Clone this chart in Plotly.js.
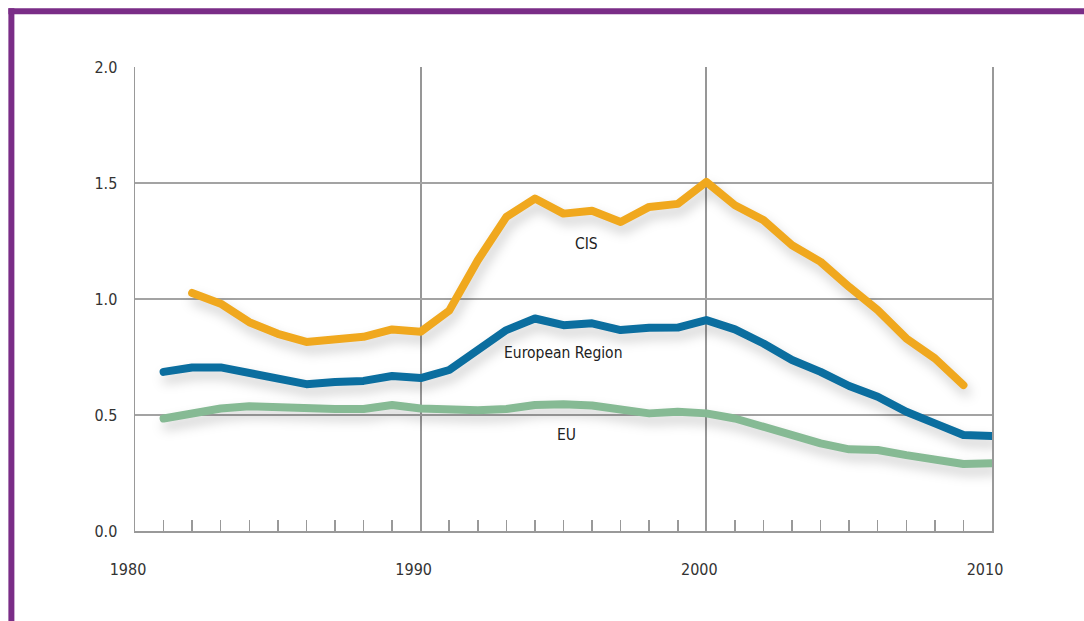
<!DOCTYPE html>
<html>
<head>
<meta charset="utf-8">
<script src="https://cdn.plot.ly/plotly-3.0.1.min.js"></script>
<style>
html,body{margin:0;padding:0;background:#fff;}
#chart{width:1084px;height:621px;}
.scatterlayer .trace path.js-line{stroke-linecap:round;stroke-linejoin:round;filter:drop-shadow(3px 7px 6px rgba(0,0,0,0.2));}
</style>
</head>
<body>
<div id="chart"></div>
<script>
var years = [1981,1982,1983,1984,1985,1986,1987,1988,1989,1990,1991,1992,1993,1994,1995,1996,1997,1998,1999,2000,2001,2002,2003,2004,2005,2006,2007,2008,2009,2010];
var cisYears = [1982,1983,1984,1985,1986,1987,1988,1989,1990,1991,1992,1993,1994,1995,1996,1997,1998,1999,2000,2001,2002,2003,2004,2005,2006,2007,2008,2009];
var cis = [1.026,0.98,0.90,0.85,0.815,0.826,0.837,0.869,0.859,0.95,1.167,1.354,1.433,1.368,1.38,1.332,1.397,1.41,1.505,1.404,1.34,1.232,1.16,1.052,0.952,0.83,0.744,0.629];
var europe = [0.686,0.705,0.705,0.679,0.658,0.633,0.642,0.647,0.668,0.659,0.694,0.78,0.866,0.916,0.887,0.895,0.866,0.876,0.877,0.909,0.869,0.808,0.737,0.686,0.625,0.579,0.514,0.464,0.414,0.41];
var eu = [0.485,0.504,0.528,0.538,0.533,0.526,0.526,0.526,0.543,0.528,0.521,0.521,0.526,0.543,0.546,0.541,0.524,0.507,0.514,0.507,0.485,0.449,0.41,0.378,0.352,0.349,0.327,0.306,0.289,0.292];
var yTicks = [0,0.5,1,1.5,2];
var yTickText = ['0.0','0.5','1.0','1.5','2.0'];
var xTicks = [1980,1990,2000,2010];
var seriesLabels = [
  {text:'CIS', x:1995.8, y:1.236},
  {text:'European Region', x:1995.0, y:0.767},
  {text:'EU', x:1995.1, y:0.414}
];

var font = 'DejaVu Sans Condensed, sans-serif';
var traces = [
  {x:years, y:eu, mode:'lines', line:{color:'#86ba94', width:8}, cliponaxis:false, hoverinfo:'skip'},
  {x:years, y:europe, mode:'lines', line:{color:'#0b6e9f', width:8}, cliponaxis:false, hoverinfo:'skip'},
  {x:cisYears, y:cis, mode:'lines', line:{color:'#f0a81e', width:8}, cliponaxis:false, hoverinfo:'skip'}
];

var L = 134.7, R = 992.3, T = 66.7, B = 531;
var W = 1084, H = 621;
function px(x){return (x-L)/(R-L);}
function py(y){return (B-y)/(B-T);}

var layout = {
  width:W, height:H,
  margin:{l:L, r:W-R, t:T, b:H-B, pad:0},
  paper_bgcolor:'#fff', plot_bgcolor:'#fff',
  showlegend:false,
  font:{family:font, color:'#333'},
  xaxis:{
    range:[1980,2010], tickvals:xTicks, ticktext:xTicks.map(String),
    showgrid:true, gridcolor:'#979797', gridwidth:2,
    showline:true, linecolor:'#999', linewidth:2,
    ticks:'inside', ticklen:11, tickcolor:'#999', tickwidth:1.5,
    minor:{dtick:1, tick0:1980, ticks:'inside', ticklen:11, tickcolor:'#999', tickwidth:1.5, showgrid:false},
    ticklabelstandoff:23, ticklabelshift:-7,
    tickfont:{family:font, size:16, color:'#333'},
    zeroline:false, fixedrange:true
  },
  yaxis:{
    range:[0,2], tickvals:yTicks, ticktext:yTickText,
    showgrid:true, gridcolor:'#a3a3a3', gridwidth:1.5,
    showline:true, mirror:true, linecolor:'#999', linewidth:1.5,
    ticks:'', ticklabelstandoff:13,
    tickfont:{family:font, size:16, color:'#333'},
    zeroline:false, fixedrange:true
  },
  annotations: seriesLabels.map(function(a){
    return {text:a.text, x:a.x, y:a.y, xref:'x', yref:'y', showarrow:false,
            font:{family:font, size:15.5, color:'#222'}};
  }),
  shapes:[
    {type:'rect', xref:'paper', yref:'paper', x0:px(8), x1:px(14), y0:py(H+5), y1:py(8), fillcolor:'#7a2d87', line:{width:0}, layer:'above'},
    {type:'rect', xref:'paper', yref:'paper', x0:px(8), x1:px(W+5), y0:py(14), y1:py(8), fillcolor:'#7a2d87', line:{width:0}, layer:'above'}
  ]
};

Plotly.newPlot('chart', traces, layout, {displayModeBar:false, staticPlot:true});
</script>
</body>
</html>
